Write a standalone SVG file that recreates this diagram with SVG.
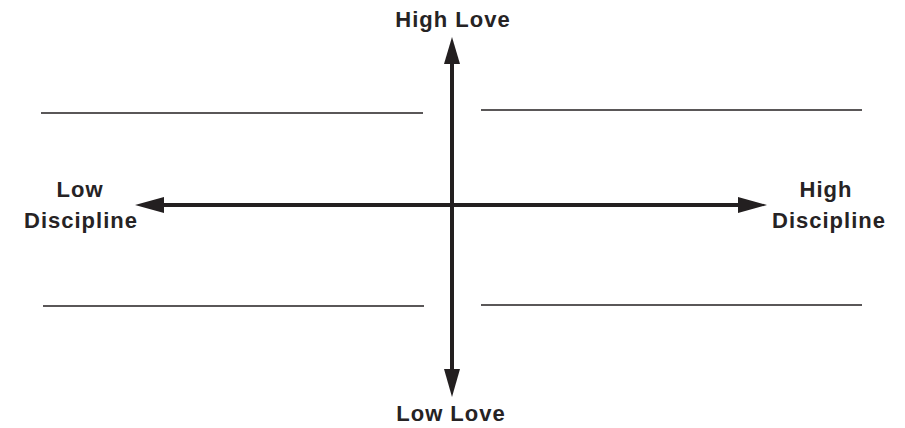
<svg xmlns="http://www.w3.org/2000/svg" width="905" height="428" viewBox="0 0 905 428">
<style>
.lbl{font-family:"Liberation Sans",Arial,sans-serif;font-weight:bold;font-size:22px;letter-spacing:1px;fill:#262324;text-anchor:middle}
.axis{stroke:#231f20;stroke-width:4;fill:none}
.rule{stroke:#231f20;stroke-width:1.3}
.head{fill:#231f20}
</style>
<rect width="905" height="428" fill="#fff"/>
<g id="connectors">
<line class="axis" x1="452" y1="60" x2="452" y2="372"/>
<polygon class="head" points="452,37 444,64 460,64"/>
<polygon class="head" points="452,397 444,369 460,369"/>
<line class="axis" x1="160" y1="205" x2="742" y2="205"/>
<polygon class="head" points="135,205 164,197 164,213"/>
<polygon class="head" points="767,205 738,197 738,213"/>
</g>
<g id="rules">
<line class="rule" x1="41" y1="113" x2="423" y2="113"/>
<line class="rule" x1="481" y1="110" x2="862" y2="110"/>
<line class="rule" x1="43" y1="306" x2="424" y2="306"/>
<line class="rule" x1="481" y1="305" x2="862" y2="305"/>
</g>
<g id="high-love"><text class="lbl" x="453" y="27">High Love</text></g>
<g id="low-love"><text class="lbl" x="451" y="421">Low Love</text></g>
<g id="low-discipline"><text class="lbl" x="80" y="197">Low</text><text class="lbl" x="81" y="228">Discipline</text></g>
<g id="high-discipline"><text class="lbl" x="826" y="197">High</text><text class="lbl" x="829" y="228">Discipline</text></g>
</svg>
